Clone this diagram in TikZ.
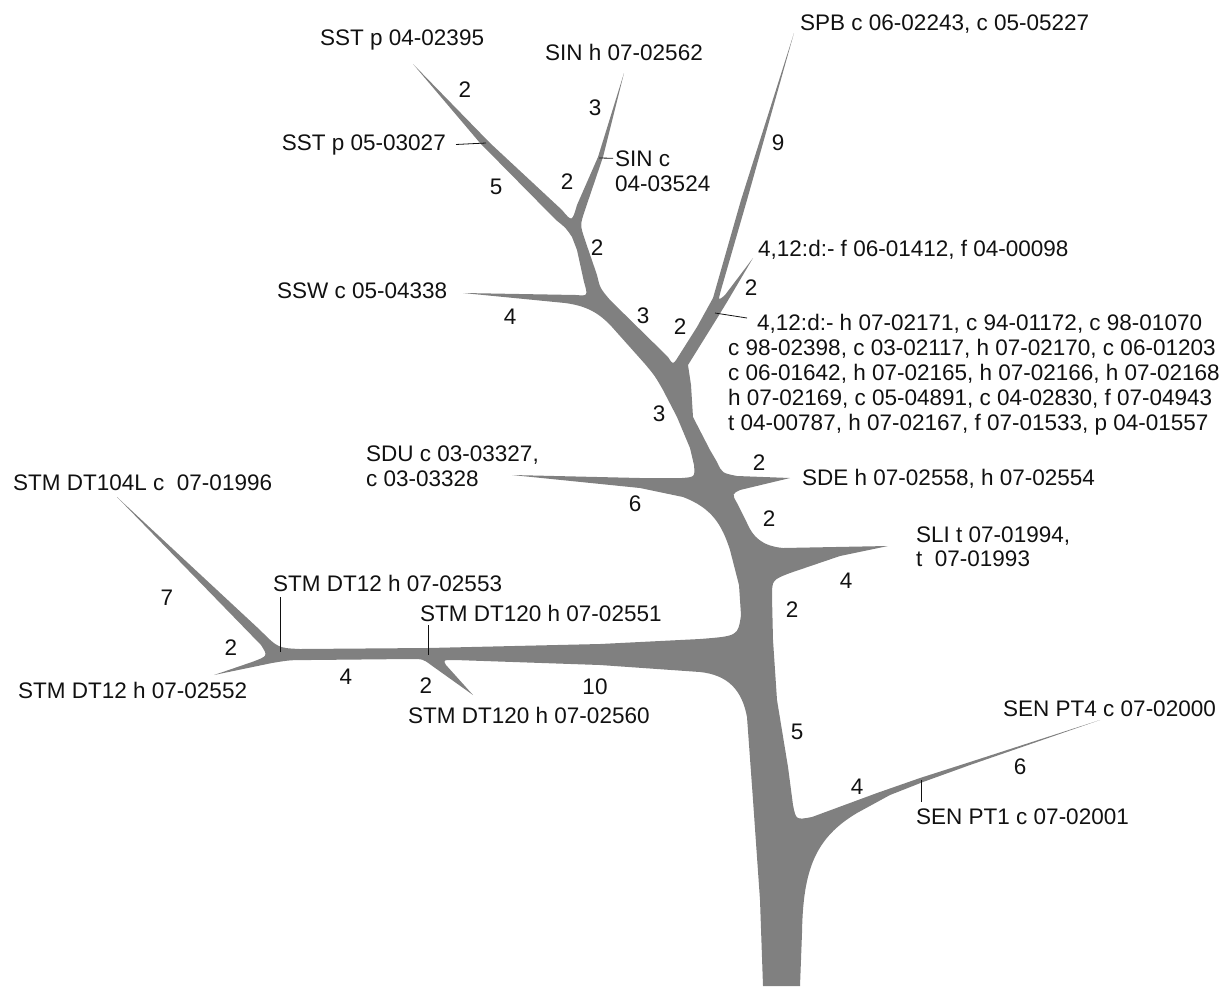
\documentclass[tikz,border=0pt]{standalone}
\usepackage{fontspec}
\setmainfont{Liberation Sans}
\definecolor{treeGray}{HTML}{808080}
\definecolor{treeInk}{HTML}{111111}
\tikzset{
  every picture/.style={font=\fontsize{22.5}{25}\selectfont, text=treeInk},
  tree body/.style={fill=treeGray, draw=none},
  tip label/.style={anchor=base west, inner sep=0pt},
  tip label left/.style={anchor=base east, inner sep=0pt},
  count label/.style={inner sep=0pt},
  tick line/.style={draw=treeInk, line width=0.8pt}
}

\begin{document}
\begin{tikzpicture}[x=1pt,y=-1pt]
  \useasboundingbox (0,0) rectangle (1231,986);
  % the tree, walked round from the foot of the trunk
  \fill[tree body]
    (763,986) -- (760,900) -- (753,800) -- (747,717)
    .. controls (742,690) and (728,675) .. (700,672)
    -- (600,665) -- (455,660)
    .. controls (443,660) .. (446,665) -- (473,695)
    -- (431,665) .. controls (423,659) .. (410,659)
    -- (310,660) .. controls (290,660) .. (272,663) -- (214,675)
    -- (252,662) .. controls (268,656) .. (261,645) -- (117,497)
    -- (260,630) .. controls (278,648) .. (300,649)
    -- (428,648) -- (600,644) -- (700,639)
    .. controls (738,636) .. (741,615)
    -- (739,585) -- (730,550)
    .. controls (722,525) and (712,508) .. (683,497)
    -- (640,488) -- (512,475) -- (640,478) -- (682,478)
    .. controls (695,477) .. (694,465)
    -- (690,448) -- (677,417) -- (663,390)
    .. controls (655,376) .. (645,364) -- (612,327)
    .. controls (600,314) and (588,306) .. (565,303)
    -- (463,293) -- (576,295)
    .. controls (588,296) .. (584,282)
    -- (577,250) -- (572,237)
    .. controls (566,228) .. (556,220)
    -- (480,143) -- (413,64) -- (490,143) -- (562,210)
    .. controls (572,222) .. (577,205)
    -- (598,157) -- (624,73) -- (603,157) -- (585,210)
    .. controls (580,225) .. (585,240)
    -- (597,275) .. controls (600,288) .. (610,300)
    -- (668,357) .. controls (673,365) .. (678,357)
    -- (697,327) -- (713,298) -- (741,200) -- (794,33)
    -- (747,200) -- (721,290)
    .. controls (718,301) .. (725,295) -- (753,258)
    -- (727,302) .. controls (721,311) .. (716,320)
    -- (688,365) .. controls (690,375) .. (691,385)
    -- (693,417) -- (710,450) -- (717,462)
    .. controls (722,473) .. (737,476) -- (790,478)
    -- (740,490) .. controls (732,494) .. (737,503)
    -- (747,523) .. controls (753,537) and (762,546) .. (783,548)
    -- (888,546) -- (840,556) -- (790,573)
    .. controls (772,580) .. (772,597)
    -- (773,640) -- (777,700) -- (788,767) -- (793,805)
    .. controls (796,820) .. (812,817)
    -- (877,793) -- (920,778) -- (970,762) -- (1100,720)
    -- (970,765) -- (923,782) -- (890,795) -- (857,813)
    .. controls (815,838) and (803,870) .. (802,933)
    -- (800,986) -- cycle;

  % tip and sample labels
  \node[tip label] (sstA) at (320,45) {SST p 04-02395};
  \node[tip label] (sinA) at (545,60) {SIN h 07-02562};
  \node[tip label] (spb) at (800,30) {SPB c 06-02243, c 05-05227};
  \node[tip label left] (sstB) at (446,150) {SST p 05-03027};
  \node[tip label] (sinB1) at (615,166) {SIN c};
  \node[tip label] (sinB2) at (615,191) {04-03524};
  \node[tip label] (dA) at (758,256) {4,12:d:- f 06-01412, f 04-00098};
  \node[tip label] (dB1) at (757,330) {4,12:d:- h 07-02171, c 94-01172, c 98-01070};
  \node[tip label] (dB2) at (728,355) {c 98-02398, c 03-02117, h 07-02170, c 06-01203};
  \node[tip label] (dB3) at (728,380) {c 06-01642, h 07-02165, h 07-02166, h 07-02168};
  \node[tip label] (dB4) at (728,405) {h 07-02169, c 05-04891, c 04-02830, f 07-04943};
  \node[tip label] (dB5) at (728,430) {t 04-00787, h 07-02167, f 07-01533, p 04-01557};
  \node[tip label] (ssw) at (277,298) {SSW c 05-04338};
  \node[tip label] (sdu1) at (366,461) {SDU c 03-03327,};
  \node[tip label] (sdu2) at (366,486) {c 03-03328};
  \node[tip label] (sde) at (802,485) {SDE h 07-02558, h 07-02554};
  \node[tip label] (sli1) at (916,542) {SLI t 07-01994,};
  \node[tip label] (sli2) at (916,566) {t\ \ 07-01993};
  \node[tip label] (stmA) at (13,490) {STM DT104L c\ \ 07-01996};
  \node[tip label] (stmB) at (273,591) {STM DT12 h 07-02553};
  \node[tip label] (stmC) at (420,621) {STM DT120 h 07-02551};
  \node[tip label] (stmD) at (18,698) {STM DT12 h 07-02552};
  \node[tip label] (stmE) at (408,723) {STM DT120 h 07-02560};
  \node[tip label] (senA) at (1003,716) {SEN PT4 c 07-02000};
  \node[tip label] (senB) at (916,824) {SEN PT1 c 07-02001};

  % ticks from inner samples to the branch
  \coordinate (sstBpt) at (486,143);
  \coordinate (sinBpt) at (599,158);
  \coordinate (dBpt) at (715,313);
  \coordinate (dBend) at (747,318);
  \coordinate (stmBtop) at (280,597);
  \coordinate (stmBpt) at (280,652);
  \coordinate (stmCtop) at (428,625);
  \coordinate (stmCpt) at (428,655);
  \coordinate (senBpt) at (921,780);
  \coordinate (senBend) at (921,802);
  \draw[tick line] ([xshift=10pt]sstB.east) -- (sstBpt);
  \draw[tick line] (sinBpt) -- ([xshift=-2pt]sinB1.west);
  \draw[tick line] (dBpt) -- (dBend);
  \draw[tick line] (stmBtop) -- (stmBpt);
  \draw[tick line] (stmCtop) -- (stmCpt);
  \draw[tick line] (senBpt) -- (senBend);

  % branch counts
  \node[count label] (cSSTa) at (465,90) {2};
  \node[count label] (cSINa) at (595,108) {3};
  \node[count label] (cSSTb) at (496,187) {5};
  \node[count label] (cSINb) at (567,182) {2};
  \node[count label] (cUp) at (597,248) {2};
  \node[count label] (cSPB) at (778,143) {9};
  \node[count label] (cDA) at (751,288) {2};
  \node[count label] (cSSW) at (510,317) {4};
  \node[count label] (cLeft) at (643,316) {3};
  \node[count label] (cRight) at (680,327) {2};
  \node[count label] (cMid) at (659,414) {3};
  \node[count label] (cSDE) at (759,463) {2};
  \node[count label] (cSDU) at (635,504) {6};
  \node[count label] (cLow) at (769,519) {2};
  \node[count label] (cSLI) at (846,581) {4};
  \node[count label] (cSTMa) at (167,598) {7};
  \node[count label] (cTrunkA) at (792,610) {2};
  \node[count label] (cSTMd) at (231,648) {2};
  \node[count label] (cSTMb) at (346,677) {4};
  \node[count label] (cSTMe) at (426,686) {2};
  \node[count label] (cSTM) at (595,687) {10};
  \node[count label] (cTrunkB) at (797,732) {5};
  \node[count label] (cSENa) at (1020,767) {6};
  \node[count label] (cSEN) at (857,787) {4};
\end{tikzpicture}
\end{document}
